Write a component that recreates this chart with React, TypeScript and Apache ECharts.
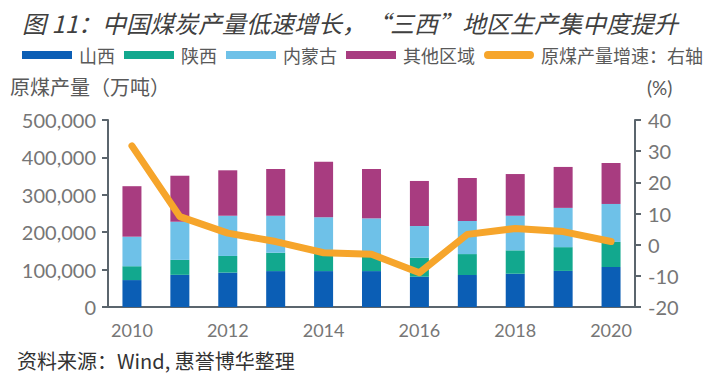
import React, { useEffect, useRef } from "react";
import * as echarts from "echarts";

const years = ["2010", "2011", "2012", "2013", "2014", "2015", "2016", "2017", "2018", "2019", "2020"];
const shanxi = [72000, 86000, 92000, 96000, 96000, 96000, 81000, 85500, 89000, 96500, 107000];
const shaanxi = [37000, 40000, 44500, 49000, 52000, 47500, 51000, 56000, 62500, 63500, 67000];
const neimenggu = [79000, 102000, 107500, 99000, 92000, 93500, 84500, 88500, 92500, 105000, 101500];
const others = [135000, 123000, 121500, 125000, 148500, 132000, 120500, 115000, 111500, 109500, 109500];
const growth = [31.7, 9.0, 3.7, 1.0, -2.6, -3.1, -9.0, 3.3, 5.2, 4.2, 1.0];

const titleText = "图 11：中国煤炭产量低速增长，“三西”地区生产集中度提升";
const leftAxisName = "原煤产量（万吨）";
const rightAxisName = "(%)";
const sourceText = "资料来源：Wind, 惠誉博华整理";

const CJK = "'Noto Sans CJK SC', 'Noto Sans', sans-serif";
const NUM = "Lato, 'Noto Sans CJK SC', sans-serif";
const axisColor = "#5B656D";
const labelColor = "#767676";

export default function App() {
  const ref = useRef<HTMLDivElement>(null);
  useEffect(() => {
    if (!ref.current) return;
    const chart = echarts.init(ref.current, undefined, { renderer: "svg" });
    const barSeries = (name: string, data: number[], color: string) => ({
      name,
      type: "bar",
      stack: "total",
      data,
      barWidth: 19,
      itemStyle: { color },
      yAxisIndex: 0,
    });
    chart.setOption({
      animation: false,
      backgroundColor: "#ffffff",
      title: {
        text: titleText,
        left: 17,
        top: 5,
        textStyle: {
          fontFamily: CJK,
          fontStyle: "italic",
          fontWeight: "normal",
          fontSize: 24,
          color: "#404040",
        },
      },
      legend: {
        left: 17,
        top: 41,
        itemWidth: 50,
        itemHeight: 8,
        itemGap: 9,
        textStyle: { fontFamily: CJK, fontSize: 18, color: "#595959", padding: [0, 0, 0, 2] },
        data: [
          { name: "山西", icon: "rect" },
          { name: "陕西", icon: "rect" },
          { name: "内蒙古", icon: "rect" },
          { name: "其他区域", icon: "rect" },
          {
            name: "原煤产量增速：右轴",
            icon: "path://M4,0 L46,0 A4,4 0 0 1 46,8 L4,8 A4,4 0 0 1 4,0 Z",
          },
        ],
      },
      grid: { left: 108, right: 82, top: 120, bottom: 76, containLabel: false },
      xAxis: {
        type: "category",
        data: years,
        axisLine: { lineStyle: { color: axisColor, width: 2 } },
        axisTick: { show: false },
        axisLabel: { interval: 1, fontFamily: NUM, fontSize: 18, color: labelColor, margin: 14 },
      },
      yAxis: [
        {
          type: "value",
          min: 0,
          max: 500000,
          interval: 100000,
          splitLine: { show: false },
          axisLine: { show: true, lineStyle: { color: axisColor, width: 2 } },
          axisTick: { show: true, length: 6, lineStyle: { color: axisColor, width: 2 } },
          axisLabel: {
            fontFamily: NUM,
            fontSize: 20,
            color: labelColor,
            margin: 12,
            formatter: (v: number) => v.toLocaleString("en-US"),
          },
        },
        {
          type: "value",
          min: -20,
          max: 40,
          interval: 10,
          position: "right",
          splitLine: { show: false },
          axisLine: { show: true, lineStyle: { color: axisColor, width: 2 } },
          axisTick: { show: true, length: 6, lineStyle: { color: axisColor, width: 2 } },
          axisLabel: { fontFamily: NUM, fontSize: 20, color: labelColor, margin: 13 },
        },
      ],
      graphic: [
        {
          type: "text",
          left: 10,
          top: 76,
          style: { text: leftAxisName, font: `20px ${CJK}`, fill: "#595959" },
        },
        {
          type: "text",
          left: 647,
          top: 78,
          style: { text: rightAxisName, font: `19px ${NUM}`, fill: "#595959" },
        },
        {
          type: "text",
          left: 17,
          top: 350,
          style: { text: sourceText, font: `20px ${CJK}`, fill: "#333333" },
        },
      ],
      series: [
        barSeries("山西", shanxi, "#0B5EB5"),
        barSeries("陕西", shaanxi, "#12A88E"),
        barSeries("内蒙古", neimenggu, "#6EC1E8"),
        barSeries("其他区域", others, "#A83C80"),
        {
          name: "原煤产量增速：右轴",
          type: "line",
          yAxisIndex: 1,
          data: growth,
          showSymbol: false,
          symbol: "none",
          z: 5,
          lineStyle: { color: "#F6A52B", width: 7, cap: "round", join: "round" },
          itemStyle: { color: "#F6A52B" },
        },
      ],
    });
    return () => chart.dispose();
  }, []);
  return <div ref={ref} style={{ width: 717, height: 383, margin: -8 }} />;
}
